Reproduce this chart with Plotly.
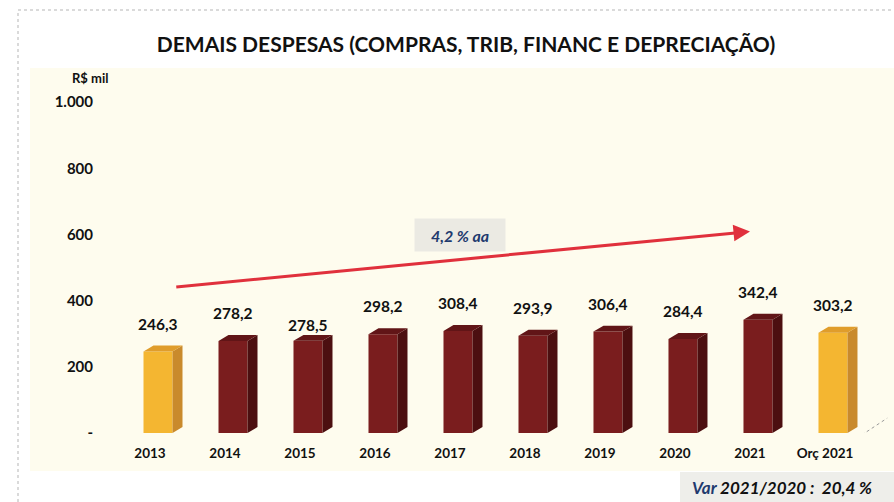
import plotly.graph_objects as go

# Chart data
categories = ["2013", "2014", "2015", "2016", "2017", "2018", "2019", "2020", "2021", "Orç 2021"]
values = [246.3, 278.2, 278.5, 298.2, 308.4, 293.9, 306.4, 284.4, 342.4, 303.2]
highlight = [True, False, False, False, False, False, False, False, False, True]
value_labels = ["246,3", "278,2", "278,5", "298,2", "308,4", "293,9", "306,4", "284,4", "342,4", "303,2"]
y_ticks = [0, 200, 400, 600, 800, 1000]
y_tick_labels = ["-", "200", "400", "600", "800", "1.000"]
trend_label = "4,2 % aa"
trend_start = (0, 441)
trend_end = (8, 609)

FONT = "Lato"
W, H = 894, 502
ML, MR, MT, MB = 100, 0, 69, 69
PW, PH = W - ML - MR, H - MT - MB


def px(x):
    return (x - ML) / PW


def py(y):
    return (H - MB - y) / PH


# 3D look: front face plus a side and a top face
FRONT_W = 0.387
FRONT_OFF = -0.087
DX = 0.133
DY = 18

colors = {
    True: dict(front="#f4b631", side="#c98a2c", top="#e09d2b"),
    False: dict(front="#7a1d1e", side="#4c0f10", top="#611517"),
}

# label lifts above the bar tops (px); 2015 sits lower to clear the arrow
label_shift = [28, 28, 16, 28, 28, 28, 28, 28, 28, 28]

fig = go.Figure()

xs = list(range(len(categories)))
fig.add_trace(go.Bar(
    x=xs, y=values, width=FRONT_W, offset=FRONT_OFF,
    marker=dict(color=[colors[h]["front"] for h in highlight], line=dict(width=0)),
    hoverinfo="skip", showlegend=False,
))

for flag in (True, False):
    sx, sy, tx, ty = [], [], [], []
    for i, (v, h) in enumerate(zip(values, highlight)):
        if h != flag:
            continue
        x0 = i + FRONT_OFF
        x1 = x0 + FRONT_W
        sx += [x1, x1 + DX, x1 + DX, x1, x1, None]
        sy += [0, DY, v + DY, v, 0, None]
        tx += [x0, x1, x1 + DX, x0 + DX, x0, None]
        ty += [v, v, v + DY, v + DY, v, None]
    fig.add_trace(go.Scatter(x=sx, y=sy, fill="toself", mode="none",
                             fillcolor=colors[flag]["side"], hoverinfo="skip", showlegend=False))
    fig.add_trace(go.Scatter(x=tx, y=ty, fill="toself", mode="none",
                             fillcolor=colors[flag]["top"], hoverinfo="skip", showlegend=False))

# value labels above each bar
for i, (v, t) in enumerate(zip(values, value_labels)):
    fig.add_annotation(x=i + FRONT_OFF + FRONT_W / 2, y=v, text=f"<b>{t}</b>",
                       showarrow=False, yshift=label_shift[i],
                       font=dict(family=FONT, size=15.5, color="#111111"))

# trend arrow
fig.add_annotation(x=trend_end[0], y=trend_end[1], ax=trend_start[0] + 0.33, ay=trend_start[1],
                   xref="x", yref="y", axref="x", ayref="y", text="",
                   showarrow=True, arrowhead=2, arrowsize=1.1, arrowwidth=3,
                   arrowcolor="#e0303c")
fig.add_annotation(x=4.13, y=598, text=f"<b><i>{trend_label}</i></b>", showarrow=False,
                   bgcolor="#ebeae3", width=88, height=30,
                   font=dict(family=FONT, size=16, color="#1f3a6e"))

# cream panel behind the chart
fig.add_shape(type="rect", xref="paper", yref="paper",
              x0=px(30), x1=px(W), y0=py(471), y1=py(68),
              fillcolor="#fefcee", line=dict(width=0), layer="below")
# dotted frame on the top and left
fig.add_shape(type="line", xref="paper", yref="paper", x0=px(18), x1=px(W), y0=py(10), y1=py(10),
              line=dict(color="#b5b5b5", width=1, dash="dot"))
fig.add_shape(type="line", xref="paper", yref="paper", x0=px(18), x1=px(18), y0=py(H), y1=py(10),
              line=dict(color="#b5b5b5", width=1, dash="dot"))
# floor lines
fig.add_shape(type="line", xref="x", yref="y", x0=-0.53, x1=9.49, y0=-6, y1=-6,
              line=dict(color="#9a9a9a", width=1, dash="dot"))
fig.add_shape(type="line", xref="x", yref="y", x0=9.49, x1=9.83, y0=-6, y1=45,
              line=dict(color="#9a9a9a", width=1, dash="dot"))

# variation box
fig.add_shape(type="rect", xref="paper", yref="paper", x0=px(680), x1=px(W), y0=py(H), y1=py(472),
              fillcolor="#eeeeea", line=dict(width=0), layer="below")
fig.add_annotation(xref="paper", yref="paper", x=px(782), y=py(488), showarrow=False,
                   xanchor="center", yanchor="middle",
                   text="<b><i><span style='color:#1f3a6e'>Var</span> 2021/2020 :  20,4 %</i></b>",
                   font=dict(family=FONT, size=17, color="#111111"))

fig.add_annotation(xref="paper", yref="paper", x=px(90), y=py(78), showarrow=False,
                   xanchor="center", yanchor="middle",
                   text="<b>R$ mil</b>", font=dict(family=FONT, size=13, color="#111111"))

fig.update_layout(
    width=W, height=H,
    margin=dict(l=ML, r=MR, t=MT, b=MB),
    paper_bgcolor="white", plot_bgcolor="rgba(0,0,0,0)",
    title=dict(text="<b>DEMAIS DESPESAS (COMPRAS, TRIB, FINANC E DEPRECIAÇÃO)</b>",
               x=466 / W, xanchor="center", y=1 - 45 / H, yanchor="middle",
               font=dict(family=FONT, size=21, color="#111111")),
    xaxis=dict(range=[-0.667, 9.92], tickvals=xs, ticktext=[f"<b>{c}</b>" for c in categories],
               showgrid=False, zeroline=False, showline=False, ticks="",
               ticklabelstandoff=10, tickfont=dict(family=FONT, size=13.5, color="#111111")),
    yaxis=dict(range=[0, 1100], tickvals=y_ticks, ticktext=[f"<b>{t}</b>" for t in y_tick_labels],
               showgrid=False, zeroline=False, showline=False, ticks="",
               ticklabelstandoff=6, tickfont=dict(family=FONT, size=15, color="#111111")),
)

fig.write_html("out.html")
